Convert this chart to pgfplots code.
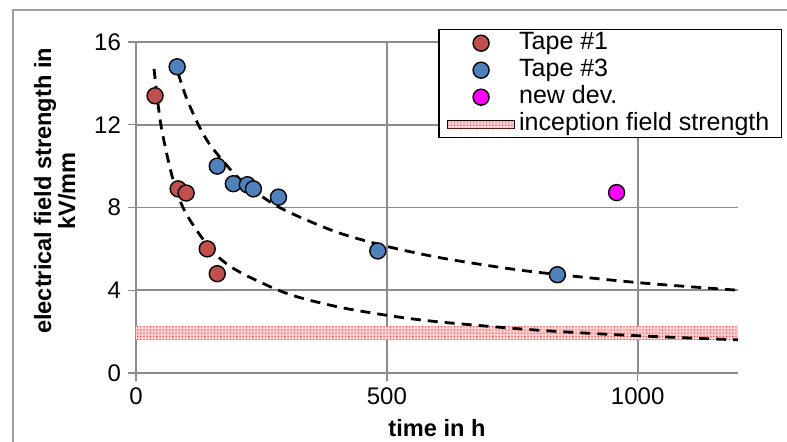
\documentclass[border=0pt]{standalone}
\usepackage{pgfplots}
\pgfplotsset{compat=1.18}
\usepackage{fontspec}
\setmainfont{Liberation Sans}
\usetikzlibrary{patterns.meta}
\definecolor{tapeRed}{HTML}{C0504D}
\definecolor{tapeBlue}{HTML}{4F81BD}
\definecolor{newDev}{HTML}{FF00FF}
\definecolor{gridGray}{HTML}{8C8C8C}
\definecolor{frameGray}{HTML}{A0A0A0}

\pgfplotsset{
  band/.style={draw=none, fill=red!18,
    postaction={pattern={Dots[radius=0.35pt, distance=1.6pt]}, pattern color=red!85}},
  bandleg/.style={band, legend image code/.code={\draw[##1] (0pt,-2pt) rectangle (33.5pt,2pt);}},
  dotleg/.style={legend image code/.code={%
    \draw[mark repeat=2,mark phase=2,##1] plot coordinates {(0pt,0pt) (16.75pt,0pt) (33.5pt,0pt)};}},
}

\begin{document}
\begin{tikzpicture}
\begin{axis}[
  scale only axis, width=301pt, height=165.5pt,
  xmin=0, xmax=1200, ymin=0, ymax=16,
  xtick={0,500,1000}, ytick={0,4,8,12,16},
  axis lines=left, axis line style={gridGray, line width=1.3pt, -},
  grid=major, major grid style={gridGray, line width=0.9pt},
  tick align=outside, major tick length=4pt, tick style={gridGray, line width=0.7pt},
  /pgf/number format/assume math mode=true, /pgf/number format/1000 sep={},
  ticklabel style={font=\fontsize{12}{14}\selectfont},
  xlabel={\textbf{time in h}}, ylabel={\textbf{electrical field strength in}\\\textbf{kV/mm}},
  xlabel style={at={(axis description cs:0.5,-0.166)}, anchor=center, font=\fontsize{11.8}{13}\selectfont},
  ylabel style={at={(axis description cs:-0.135,0.55)}, anchor=center, rotate=0, align=center,
    font=\fontsize{11.8}{12}\selectfont},
  legend style={at={(1.073,1.039)}, anchor=north east, draw=black, line width=0.6pt,
    fill=white, font=\fontsize{12.5}{14}\selectfont, inner xsep=4pt, inner ysep=0pt,
    nodes={text height=9pt, text depth=2.5pt, inner ysep=1pt}},
  legend cell align=left,
  clip=false,
]
% inception field strength band
\addplot[band, forget plot] coordinates {(0,1.6) (1200,1.6) (1200,2.25) (0,2.25) (0,1.6)};

\addplot[only marks, mark=*, mark size=4pt, mark options={fill=tapeRed, draw=black, line width=0.7pt}, dotleg]
  coordinates {(38,13.4) (84,8.9) (100,8.7) (142,6.0) (162,4.8)};
\addlegendentry{Tape \#1}
\addplot[only marks, mark=*, mark size=4pt, mark options={fill=tapeBlue, draw=black, line width=0.7pt}, dotleg]
  coordinates {(82,14.8) (162,10.0) (194,9.15) (222,9.1) (234,8.9) (284,8.5) (482,5.9) (840,4.75)};
\addlegendentry{Tape \#3}
\addplot[only marks, mark=*, mark size=4pt, mark options={fill=newDev, draw=black, line width=0.7pt}, dotleg]
  coordinates {(958,8.72)};
\addlegendentry{new dev.}

% power-law trend lines
\addplot[black, line width=1.4pt, dash pattern=on 5pt off 3.5pt, smooth, forget plot]
  coordinates {(36,14.7) (50,11.94) (75,9.24) (100,7.70) (150,5.96) (200,4.97) (300,3.85)
    (400,3.21) (500,2.79) (600,2.48) (800,2.07) (1000,1.80) (1200,1.60)};
\addplot[black, line width=1.4pt, dash pattern=on 5pt off 3.5pt, smooth, forget plot]
  coordinates {(84,14.5) (100,13.33) (125,11.97) (150,10.95) (200,9.53) (250,8.55) (300,7.83)
    (400,6.81) (500,6.12) (600,5.60) (700,5.20) (800,4.87) (1000,4.37) (1200,4.0)};

\addlegendimage{bandleg}
\addlegendentry{inception field strength}
\end{axis}
\pgfresetboundingbox
\useasboundingbox (-68pt,-34.5pt) rectangle (325.5pt,186.5pt);
\draw[frameGray, line width=1pt] (-61.5pt,-40pt) -- (-61.5pt,181.5pt) -- (330pt,181.5pt);
\end{tikzpicture}
\end{document}
